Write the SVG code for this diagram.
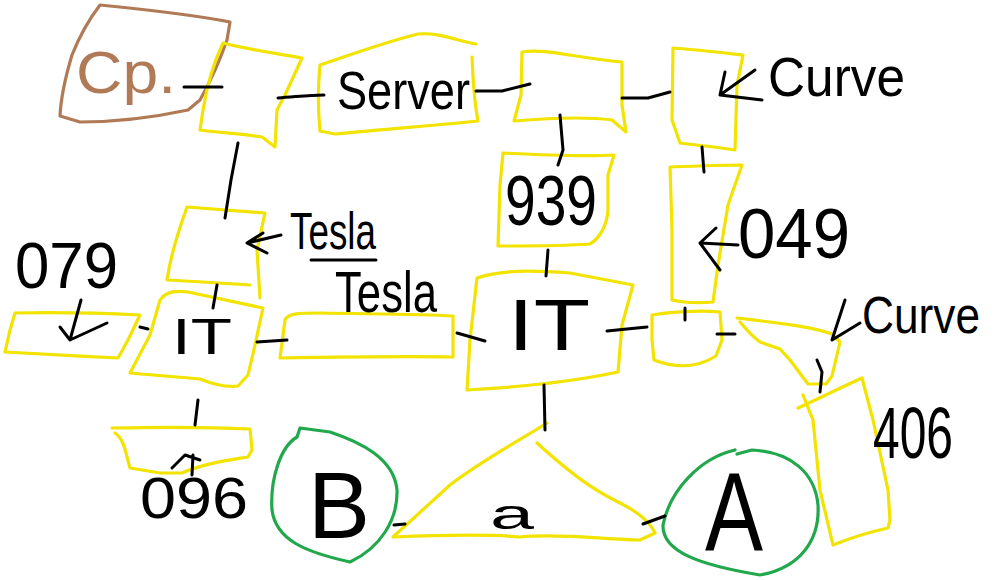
<svg xmlns="http://www.w3.org/2000/svg" width="1001" height="580" viewBox="0 0 1001 580">
<style>
.y{fill:none;stroke:#F2E300;stroke-width:3.2;stroke-linejoin:round;stroke-linecap:round}
.g{fill:none;stroke:#22A84C;stroke-width:3.2;stroke-linejoin:round;stroke-linecap:round}
.br{fill:none;stroke:#B07A57;stroke-width:3.2;stroke-linejoin:round;stroke-linecap:round}
.k{fill:none;stroke:#000;stroke-width:3;stroke-linejoin:round;stroke-linecap:round}
.t{font-family:"Liberation Sans",Arial,sans-serif;fill:#000}
</style>
<rect width="1001" height="580" fill="#fff"/>
<g id="node-cp">
<path class="br" d="M100,5 C150,10 200,16 230,22 L227,40 C220,60 210,82 200,100 L188,110 C160,116 120,122 80,122 L60,116 C61,95 66,75 72,55 C80,35 90,18 100,5 Z"/>
<text class="t" x="76" y="93" font-size="60" textLength="100" lengthAdjust="spacingAndGlyphs" style="fill:#B07A57">Cp.</text>
</g>
<g id="node-n1">
<path class="y" d="M223,43 C250,50 280,54 302,58 L285,95 L277,110 L275,147 L262,137 C245,134 222,133 200,130 L203,110 C207,85 214,62 223,43 Z"/>
</g>
<g id="node-server">
<path class="y" d="M320,65 C350,55 385,42 418,34 C440,32 460,42 476,44 M472,57 C473,75 473,95 478,121 C450,124 400,128 335,134 L320,131 C318,110 318,85 320,65"/>
<text class="t" x="337" y="109" font-size="54" textLength="133" lengthAdjust="spacingAndGlyphs">Server</text>
</g>
<g id="node-n3">
<path class="y" d="M522,52 C545,48 575,58 622,62 L622,105 L626,132 L612,120 C590,117 550,118 514,121 L521,95 Z"/>
</g>
<g id="node-n4">
<path class="y" d="M673,48 C700,50 725,53 743,55 L737,85 L735,150 C715,147 695,145 680,143 L672,120 Z"/>
</g>
<g id="node-939">
<path class="y" d="M503,153 C540,155 580,157 614,155 L608,175 L608,210 C607,225 600,238 590,244 C560,246 530,246 498,246 L500,185 Z"/>
<text class="t" x="505" y="225" font-size="70" textLength="92" lengthAdjust="spacingAndGlyphs">939</text>
</g>
<g id="node-049">
<path class="y" d="M670,167 C695,166 720,165 742,165 L728,205 L718,265 L713,302 C700,303 685,303 672,300 L672,230 Z"/>
</g>
<g id="node-tesla-top">
<path class="y" d="M187,207 C215,209 240,211 265,213 L257,250 L260,298 M250,285 C220,283 190,281 167,280 C170,260 175,240 187,207"/>
</g>
<g id="node-it-left">
<path class="y" d="M130,373 L150,335 L160,300 C165,292 175,290 188,292 L263,308 L255,345 L248,375 L238,386 C225,388 210,383 200,379 C180,377 150,375 130,373 Z"/>
<text class="t" x="172" y="354" font-size="50" textLength="60" lengthAdjust="spacingAndGlyphs">IT</text>
</g>
<g id="node-079">
<path class="y" d="M15,313 C55,312 100,313 140,315 L128,340 L118,358 C80,356 40,354 5,352 L10,330 Z"/>
</g>
<g id="node-tesla-long">
<path class="y" d="M285,320 C288,313 300,313 320,313 C370,314 420,314 453,316 L453,357 C400,356 340,357 280,358 Z"/>
</g>
<g id="node-it-center">
<path class="y" d="M477,278 C500,270 530,270 570,273 L633,285 L622,325 L618,372 C590,378 540,386 467,390 L470,340 Z"/>
<text class="t" x="508" y="350" font-size="72" textLength="82" lengthAdjust="spacingAndGlyphs">IT</text>
</g>
<g id="node-small">
<path class="y" d="M652,315 C670,312 700,310 720,312 L722,340 L716,356 C700,366 680,370 654,360 L652,340 Z"/>
</g>
<g id="node-curve">
<path class="y" d="M737,318 C770,322 810,326 832,334 L840,342 L832,376 L826,384 L808,384 L790,360 L780,349 L760,342 C752,336 745,328 740,322"/>
</g>
<g id="node-406">
<path class="y" d="M798,408 C820,398 840,388 862,378 L873,420 L888,490 L890,520 L888,528 C870,532 850,538 833,545 L820,490 L813,420 L803,395"/>
</g>
<g id="node-triangle">
<path class="y" d="M547,423 C520,440 480,462 450,485 L393,537 C440,535 490,534 520,537 C560,533 610,540 640,540 L655,533 C650,522 640,513 620,503 C600,493 580,482 537,443"/>
<text class="t" x="490" y="529" font-size="42" textLength="44" lengthAdjust="spacingAndGlyphs">a</text>
</g>
<g id="node-096">
<path class="y" d="M112,428 C160,427 210,427 250,429 L252,450 L248,457 C230,460 205,463 182,473 L160,473 L130,468 C126,455 125,440 115,433"/>
</g>
<g id="node-b">
<path class="g" d="M297,437 C280,447 270,480 272,510 C276,540 305,552 350,562 C380,548 398,520 397,490 C394,458 360,442 330,432 L300,428 L297,437"/>
<text class="t" x="308" y="538" font-size="95" textLength="62" lengthAdjust="spacingAndGlyphs">B</text>
</g>
<g id="node-a">
<path class="g" d="M735,450 C700,458 670,490 663,525 C662,552 700,565 760,575 C800,568 820,540 818,505 C815,472 790,452 752,450 L737,454"/>
<text class="t" x="705" y="550" font-size="112" textLength="58" lengthAdjust="spacingAndGlyphs">A</text>
</g>
<g id="connectors">
<path class="k" d="M184,87 L222,87"/>
<path class="k" d="M278,98 C295,97 308,95 324,95"/>
<path class="k" d="M476,91 L502,91 L530,84"/>
<path class="k" d="M622,98 L648,98 L670,92"/>
<path class="k" d="M560,115 L563,150 L558,165"/>
<path class="k" d="M702,147 L704,172"/>
<path class="k" d="M548,250 L546,276"/>
<path class="k" d="M238,143 L231,180 L225,218"/>
<path class="k" d="M217,285 L213,308"/>
<path class="k" d="M140,327 L148,329"/>
<path class="k" d="M257,342 L287,340"/>
<path class="k" d="M457,333 L485,341"/>
<path class="k" d="M607,331 L647,327"/>
<path class="k" d="M685,308 L685,320"/>
<path class="k" d="M717,334 L735,334"/>
<path class="k" d="M817,360 L822,372 L820,392"/>
<path class="k" d="M544,385 L545,430"/>
<path class="k" d="M394,525 L405,524"/>
<path class="k" d="M643,524 L665,516"/>
<path class="k" d="M198,400 L195,425"/>
</g>
<g id="labels">
<path class="k" d="M755,70 L720,95 M725,72 L720,95 L762,100"/>
<text class="t" x="768" y="96" font-size="56" textLength="137" lengthAdjust="spacingAndGlyphs">Curve</text>
<path class="k" d="M738,245 L700,243 M716,228 L700,243 L720,270"/>
<text class="t" x="738" y="258" font-size="70" textLength="112" lengthAdjust="spacingAndGlyphs">049</text>
<path class="k" d="M281,235 L247,243 M263,233 L247,243 L267,253"/>
<text class="t" x="290" y="249" font-size="52" textLength="86" lengthAdjust="spacingAndGlyphs">Tesla</text>
<path class="k" d="M311,260 L376,260"/>
<text class="t" x="335" y="312" font-size="58" textLength="102" lengthAdjust="spacingAndGlyphs">Tesla</text>
<text class="t" x="15" y="288" font-size="64" textLength="103" lengthAdjust="spacingAndGlyphs">079</text>
<path class="k" d="M81,300 L70,340 M60,327 L70,340 L107,323"/>
<path class="k" d="M193,455 L192,475 M172,468 L185,455 L200,460"/>
<text class="t" x="140" y="518" font-size="58" textLength="108" lengthAdjust="spacingAndGlyphs">096</text>
<path class="k" d="M845,300 L832,340 L860,323"/>
<text class="t" x="862" y="333" font-size="52" textLength="118" lengthAdjust="spacingAndGlyphs">Curve</text>
<text class="t" x="873" y="458" font-size="72" textLength="80" lengthAdjust="spacingAndGlyphs">406</text>
</g>
</svg>
